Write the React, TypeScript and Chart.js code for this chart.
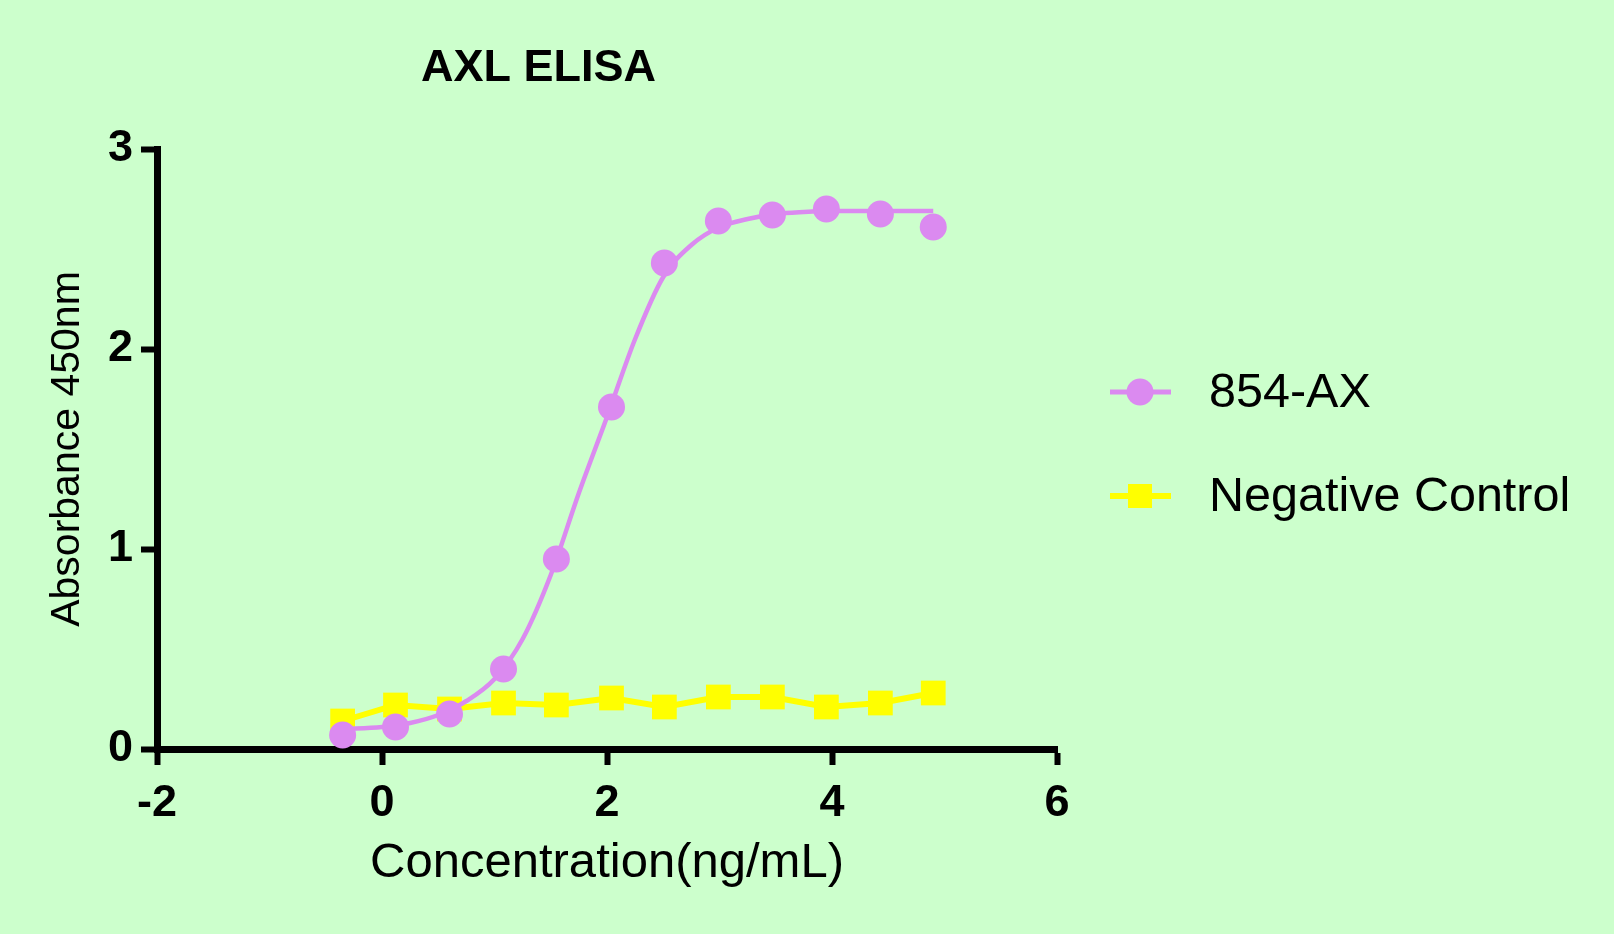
import React, { useEffect, useRef } from 'react';
import { Chart, registerables } from 'chart.js';

Chart.register(...registerables);

const chartTitle = 'AXL ELISA';
const xAxisTitle = 'Concentration(ng/mL)';
const yAxisTitle = 'Absorbance 450nm';
const seriesNames = ['854-AX', 'Negative Control'];

// log10 concentration of each dilution
const logConc = [-0.35, 0.12, 0.6, 1.08, 1.55, 2.04, 2.51, 2.99, 3.47, 3.95, 4.43, 4.9];
const ax854 = [0.07, 0.11, 0.175, 0.4, 0.95, 1.71, 2.43, 2.64, 2.67, 2.7, 2.675, 2.61];
const negControl = [0.14, 0.22, 0.2, 0.23, 0.22, 0.255, 0.21, 0.26, 0.26, 0.21, 0.23, 0.28];

// fitted curve for 854-AX
const fitX = [-0.35, 0, 0.25, 0.5, 0.75, 1, 1.25, 1.5, 1.75, 2, 2.25, 2.5, 2.75, 3, 3.25, 3.5, 3.75, 4, 4.5, 4.9];
const fitY = [0.1, 0.11, 0.13, 0.17, 0.24, 0.35, 0.55, 0.87, 1.28, 1.66, 2.05, 2.36, 2.52, 2.61, 2.65, 2.675, 2.685, 2.69, 2.69, 2.69];

const xTicks = [-2, 0, 2, 4, 6];
const yTicks = [0, 1, 2, 3];

const BG = '#CCFFCC';
const PURPLE = '#DB8AF0';
const YELLOW = '#FFFF00';
const FONT = "'Liberation Sans', Arial, sans-serif";

const bgPlugin = {
  id: 'bg',
  beforeDraw(chart: any) {
    const { ctx, width, height } = chart;
    ctx.save();
    ctx.fillStyle = BG;
    ctx.fillRect(0, 0, width, height);
    ctx.restore();
  },
};

const titlePlugin = {
  id: 'plotTitle',
  afterDraw(chart: any) {
    const ctx = chart.ctx;
    ctx.save();
    ctx.fillStyle = '#000';
    ctx.font = `bold 45px ${FONT}`;
    ctx.textBaseline = 'middle';
    ctx.textAlign = 'left';
    ctx.fillText(chartTitle, 421, 69);
    ctx.restore();
  },
};

const legendPlugin = {
  id: 'sideLegend',
  afterDraw(chart: any) {
    const ctx = chart.ctx;
    const rows = [
      { label: seriesNames[0], color: PURPLE, shape: 'circle', y: 392 },
      { label: seriesNames[1], color: YELLOW, shape: 'rect', y: 496 },
    ];
    ctx.save();
    rows.forEach((r) => {
      ctx.strokeStyle = r.color;
      ctx.fillStyle = r.color;
      ctx.lineWidth = r.shape === 'rect' ? 6 : 5;
      ctx.beginPath();
      ctx.moveTo(1110, r.y);
      ctx.lineTo(1171, r.y);
      ctx.stroke();
      ctx.beginPath();
      if (r.shape === 'circle') {
        ctx.arc(1140, r.y, 13.5, 0, Math.PI * 2);
      } else {
        ctx.rect(1128, r.y - 12, 24, 24);
      }
      ctx.fill();
      ctx.fillStyle = '#000';
      ctx.font = `48.5px ${FONT}`;
      ctx.textBaseline = 'middle';
      ctx.textAlign = 'left';
      ctx.fillText(r.label, 1209, r.y + 2);
    });
    ctx.restore();
  },
};

const App: React.FC = () => {
  const chartRef = useRef<HTMLCanvasElement>(null);
  const chartInstance = useRef<Chart | null>(null);

  useEffect(() => {
    document.body.style.margin = '0';
    document.body.style.background = BG;

    if (chartInstance.current) {
      chartInstance.current.destroy();
    }
    const ctx = chartRef.current?.getContext('2d');
    if (!ctx) return;

    chartInstance.current = new Chart(ctx, {
      type: 'scatter',
      data: {
        datasets: [
          {
            label: seriesNames[0],
            data: logConc.map((x, i) => ({ x, y: ax854[i] })),
            showLine: false,
            pointStyle: 'circle',
            pointRadius: 13.5,
            pointBorderWidth: 0,
            pointBackgroundColor: PURPLE,
            backgroundColor: PURPLE,
            borderColor: PURPLE,
            order: 0,
          },
          {
            label: seriesNames[0] + ' fit',
            data: fitX.map((x, i) => ({ x, y: fitY[i] })),
            showLine: true,
            borderColor: PURPLE,
            borderWidth: 4.5,
            pointRadius: 0,
            cubicInterpolationMode: 'monotone',
            order: 1,
          },
          {
            label: seriesNames[1],
            data: logConc.map((x, i) => ({ x, y: negControl[i] })),
            showLine: true,
            borderColor: YELLOW,
            borderWidth: 6,
            tension: 0,
            pointStyle: 'rect',
            pointRadius: 17.5,
            pointBorderWidth: 0,
            pointBackgroundColor: YELLOW,
            backgroundColor: YELLOW,
            order: 2,
          },
        ] as any,
      },
      options: {
        animation: false,
        responsive: true,
        maintainAspectRatio: false,
        devicePixelRatio: 1,
        layout: { padding: { top: 149, right: 557, bottom: 0, left: 0 } },
        plugins: {
          legend: { display: false },
          tooltip: { enabled: false },
          title: { display: false },
        },
        scales: {
          x: {
            type: 'linear',
            position: 'bottom',
            min: -2,
            max: 6,
            afterBuildTicks: (s: any) => {
              s.ticks = xTicks.map((v) => ({ value: v }));
            },
            afterFit: (s: any) => {
              s.height = 185;
            },
            grid: {
              drawOnChartArea: false,
              drawTicks: true,
              tickLength: 16,
              tickWidth: 6,
              tickColor: '#000',
            },
            border: { display: true, color: '#000', width: 7 },
            ticks: {
              color: '#000',
              padding: 12,
              maxRotation: 0,
              font: { family: FONT, size: 45, weight: 'bold' },
            },
            title: {
              display: true,
              text: xAxisTitle,
              color: '#000',
              font: { family: FONT, size: 49 },
              padding: { top: 0, bottom: 41 },
            },
          },
          y: {
            type: 'linear',
            min: 0,
            max: 3,
            afterBuildTicks: (s: any) => {
              s.ticks = yTicks.map((v) => ({ value: v }));
            },
            afterFit: (s: any) => {
              s.width = 157;
            },
            grid: {
              drawOnChartArea: false,
              drawTicks: true,
              tickLength: 16,
              tickWidth: 6,
              tickColor: '#000',
            },
            border: { display: true, color: '#000', width: 7 },
            ticks: {
              color: '#000',
              padding: 8,
              font: { family: FONT, size: 45, weight: 'bold' },
            },
            title: {
              display: true,
              text: yAxisTitle,
              color: '#000',
              font: { family: FONT, size: 41 },
              padding: { top: 43, bottom: 0 },
            },
          },
        },
      } as any,
      plugins: [bgPlugin, titlePlugin, legendPlugin],
    });

    return () => {
      if (chartInstance.current) {
        chartInstance.current.destroy();
        chartInstance.current = null;
      }
    };
  }, []);

  return (
    <div style={{ width: 1614, height: 934, background: BG }}>
      <canvas ref={chartRef} />
    </div>
  );
};

export default App;
